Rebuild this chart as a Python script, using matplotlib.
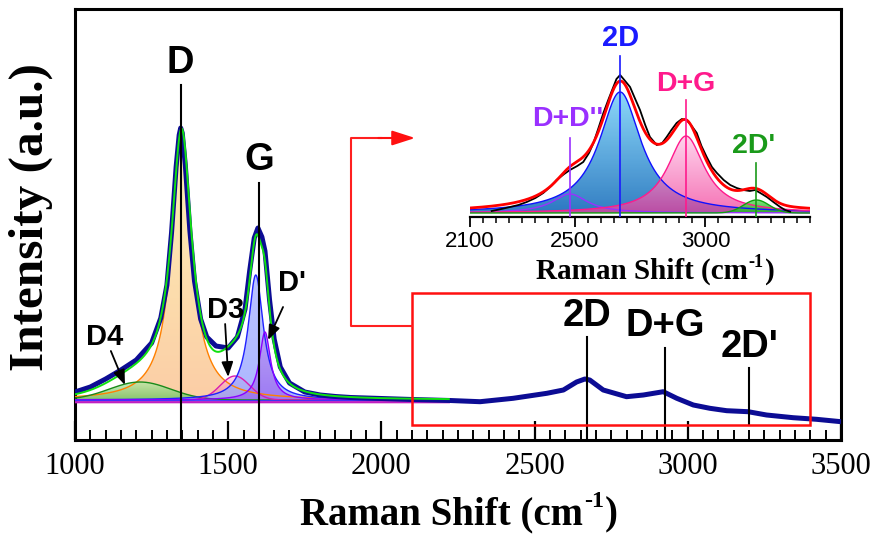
import numpy as np
import matplotlib
matplotlib.use("Agg")
import matplotlib.pyplot as plt
from matplotlib.colors import LinearSegmentedColormap
from matplotlib.path import Path
from matplotlib.patches import PathPatch, Rectangle

# ---------------- data ----------------
# measured spectrum, main panel (intensity in arbitrary units above baseline)
main_shift = [1000, 1050, 1100, 1150, 1200, 1250, 1280, 1300, 1315, 1330, 1340, 1345,
              1350, 1360, 1375, 1390, 1410, 1430, 1460, 1500, 1530, 1555, 1570, 1585,
              1597, 1610, 1620, 1635, 1650, 1670, 1700, 1750, 1800, 1850, 1900, 2000,
              2100, 2224, 2322, 2430, 2540, 2594, 2637, 2664, 2680, 2724, 2800, 2855,
              2920, 2964, 3018, 3072, 3127, 3197, 3257, 3344, 3420, 3500]
main_intensity = [9, 14, 22, 31, 41, 58, 83, 116, 168, 234, 266, 273,
                  268, 236, 170, 120, 82, 64, 55, 53, 64, 92, 130, 163,
                  173, 164, 150, 101, 62, 34, 18, 9, 6, 4.5, 3.5, 2.5,
                  1.5, 0.5, -0.7, 2.7, 7.7, 11, 19, 22, 21, 11, 4.3, 6,
                  9.3, 2.7, -4, -7.3, -9.7, -10.7, -14, -16.7, -18.3, -20.7]

# fitted components, main panel
main_peak_names = ['D', 'D4', 'D3', 'G', "D'"]
main_peak_centers = [1348, 1212, 1522, 1590, 1620]
main_peak_heights = [262, 18, 24, 125, 68]
main_peak_widths = [40, 100, 48, 30, 22]        # HWHM (Lorentz) / sigma (Gauss)
main_peak_shapes = ['L', 'G', 'G', 'L', 'L']
main_fit_range = [1000, 2220]
main_baseline = 1

# inset: measured spectrum
inset_shift = [2183, 2220, 2253, 2285, 2317, 2350, 2380, 2410, 2431, 2460, 2482, 2510,
               2533, 2555, 2572, 2590, 2610, 2630, 2648, 2660, 2674, 2690, 2712, 2730,
               2750, 2770, 2788, 2814, 2835, 2852, 2870, 2890, 2910, 2928, 2945, 2967,
               2985, 3005, 3025, 3044, 3070, 3095, 3120, 3145, 3170, 3190, 3210, 3235,
               3260, 3286, 3305, 3324]
inset_intensity = [2, 4, 6, 8, 11, 15, 20, 27, 33, 39, 43, 47,
                   51, 60, 70, 84, 100, 114, 126, 134, 138, 133, 126, 115,
                   103, 88, 76, 68, 70, 76, 83, 90, 94, 93, 88, 80,
                   67, 56, 46, 40, 33, 28, 25, 23, 22, 23, 20, 16,
                   11, 6, 3, 1.3]

# inset: fitted components
inset_peak_names = ["D+D''", '2D', 'D+G', "2D'"]
inset_peak_centers = [2482, 2674, 2926, 3195]
inset_peak_heights = [19, 121, 77, 13]
inset_peak_widths = [82, 97, 86, 49]
inset_peak_shapes = ['L', 'L', 'L', 'G']
inset_fit_range = [2100, 3400]

# ---------------- styles ----------------
main_styles = {
    'D':   dict(top='#fff1ae', bot='#fbc89c', edge='#ff8000', alpha=0.9),
    'D4':  dict(top='#b4eaa8', bot='#62c25a', edge='#1a8a1a', alpha=0.75),
    'D3':  dict(top='#ffc4e6', bot='#f07a8a', edge='#d81cb0', alpha=0.65),
    'G':   dict(top='#aab4ff', bot='#98a6ff', edge='#2020ff', alpha=0.8),
    "D'":  dict(top='#b898f4', bot='#9a6cf0', edge='#8a00ff', alpha=0.8),
}
inset_styles = {
    "D+D''": dict(top='#a890ff', bot='#5060f0', edge='#9a30ff', alpha=0.85, txt='#9a30ff'),
    '2D':    dict(top='#86d6fa', bot='#2878c0', edge='#1010ff', alpha=0.95, txt='#1a1aff'),
    'D+G':   dict(top='#ffc4e6', bot='#f23a98', edge='#ff1a8c', alpha=0.72, txt='#ff1a8c'),
    "2D'":   dict(top='#70e070', bot='#20b020', edge='#10a010', alpha=0.9, txt='#1a9a1a'),
}


def profile(x, c, h, w, shape):
    if shape == 'L':
        return h / (1.0 + ((x - c) / w) ** 2)
    return h * np.exp(-0.5 * ((x - c) / w) ** 2)


def grad_fill(ax, x, y0, y, ctop, cbot, alpha, z):
    verts = np.column_stack([np.r_[x, x[::-1]], np.r_[y, np.full_like(x, y0)]])
    patch = PathPatch(Path(verts), facecolor='none', edgecolor='none',
                      transform=ax.transData)
    ax.add_patch(patch)
    cmap = LinearSegmentedColormap.from_list('g', [cbot, ctop])
    im = ax.imshow(np.linspace(0, 1, 256)[:, None], cmap=cmap, origin='lower',
                   extent=[x.min(), x.max(), y0, y.max()], aspect='auto',
                   alpha=alpha, zorder=z, interpolation='bilinear')
    im.set_clip_path(patch)


fig = plt.figure(figsize=(8.76, 5.34), dpi=100)
W, H = 876.0, 534.0
renderer = fig.canvas.get_renderer()


def sup_label(cx_px, base_px, fs, raise_px):
    """'Raman Shift (cm' + superscript '-1' + ')', centred at cx_px."""
    kw = dict(family='Liberation Serif', weight='bold', va='baseline', ha='left')
    t1 = fig.text(0, 1 - base_px / H, 'Raman Shift (cm', fontsize=fs, **kw)
    t2 = fig.text(0, 1 - (base_px - raise_px) / H, '-1', fontsize=fs * 0.62, **kw)
    t3 = fig.text(0, 1 - base_px / H, ')', fontsize=fs, **kw)
    ws = [t.get_window_extent(renderer).width for t in (t1, t2, t3)]
    x0 = cx_px - sum(ws) / 2.0
    t1.set_x(x0 / W)
    t2.set_x((x0 + ws[0] + 1) / W)
    t3.set_x((x0 + ws[0] + ws[1] + 2) / W)


ax = fig.add_axes([75 / W, 94 / H, 766 / W, 431 / H])

# ---- main fit components ----
xf = np.linspace(main_fit_range[0], main_fit_range[1], 1500)
total = np.full_like(xf, main_baseline, dtype=float)
for i, name in enumerate(main_peak_names):
    yc = profile(xf, main_peak_centers[i], main_peak_heights[i],
                 main_peak_widths[i], main_peak_shapes[i])
    total += yc
    st = main_styles[name]
    grad_fill(ax, xf, main_baseline, main_baseline + yc, st['top'], st['bot'],
              st['alpha'], 2 + i * 0.1)
    ax.plot(xf, main_baseline + yc, color=st['edge'], lw=1.0, zorder=2.6 + i * 0.05)
ax.plot(xf, np.full_like(xf, 0.2), color='#3030ff', lw=1.0, zorder=2.9)
ax.plot(xf, np.full_like(xf, -1.2), color='#c020c0', lw=1.6, zorder=2.95)

ax.plot(main_shift, main_intensity, color='#0c0c94', lw=3.6, zorder=4,
        solid_capstyle='butt')
ax.plot(xf, total, color='#10e010', lw=1.4, zorder=5)

# ---- peak markers in main panel ----
ybot = -39
lab_kw = dict(family='Liberation Sans', weight='bold', ha='center', va='center',
              color='black')
for xv, ytop, ylab, txt in [(1345, 316, 338, 'D'), (1600, 218, 241, 'G'),
                             (2670, 64, 85, '2D'), (2926, 53, 75, 'D+G'),
                             (3200, 33, 54, "2D'")]:
    ax.plot([xv, xv], [ybot if txt != "2D'" else -24, ytop], color='black',
            lw=1.5, zorder=6, clip_on=False)
    ax.text(xv, ylab, txt, fontsize=27.5, zorder=7, **lab_kw)

arrow_kw = dict(arrowstyle='-|>,head_length=0.9,head_width=0.35', color='black',
                lw=1.3, shrinkA=0, shrinkB=0)
for txt, lab, start, tip in [('D4', (1098, 64), (1117, 50), (1163, 16)),
                              ('D3', (1490, 91), (1490, 77), (1500, 24)),
                              ("D'", (1708, 118), (1679, 94), (1630, 61))]:
    ax.text(lab[0], lab[1], txt, fontsize=21, zorder=7, **lab_kw)
    ax.annotate('', xy=tip, xytext=start, arrowprops=arrow_kw, zorder=7)

# ---- red zoom box and connector ----
ax.add_patch(Rectangle((2100, -24), 1300, 132, fill=False, edgecolor='#ff1010',
                       lw=1.8, zorder=6))
ax.plot([2100, 1900, 1900, 2000], [75.3, 75.3, 263, 263], color='#ff2020', lw=1.5,
        zorder=6, clip_on=False)
ax.annotate('', xy=(2110, 263), xytext=(1990, 263),
            arrowprops=dict(arrowstyle='-|>,head_length=1.4,head_width=0.45',
                            color='#ff1010', lw=1.5, shrinkA=0, shrinkB=0), zorder=6)

ax.set_xlim(1000, 3500)
ax.set_ylim(-39, 392)
ax.set_xticks([1000, 1500, 2000, 2500, 3000, 3500])
ax.set_xticks(np.arange(1000, 3501, 50), minor=True)
ax.set_yticks([])
ax.tick_params(axis='x', which='major', direction='in', length=14, width=1.6,
               labelsize=22, pad=9, top=False)
ax.tick_params(axis='x', which='minor', direction='in', length=7, width=1.4,
               top=False)
for lbl in ax.get_xticklabels():
    lbl.set_family('Liberation Serif')
for sp in ax.spines.values():
    sp.set_linewidth(2.2)

sup_label(458, 524, 28, 17)
fig.text(31 / W, 1 - 217 / H, 'Intensity (a.u.)', family='Liberation Serif',
         weight='bold', fontsize=35.5, ha='center', va='center', rotation=90)

# ---------------- inset ----------------
axi = fig.add_axes([470 / W, (534 - 217) / H, 340 / W, 197 / H])
axi.patch.set_visible(False)
xi = np.linspace(inset_fit_range[0], inset_fit_range[1], 1300)
itotal = np.zeros_like(xi)
for i, name in enumerate(inset_peak_names):
    yc = profile(xi, inset_peak_centers[i], inset_peak_heights[i],
                 inset_peak_widths[i], inset_peak_shapes[i])
    itotal += yc
    st = inset_styles[name]
    grad_fill(axi, xi, 0, yc, st['top'], st['bot'], st['alpha'], 2 + i * 0.1)
    axi.plot(xi, yc, color=st['edge'], lw=1.0, zorder=2.6 + i * 0.05)

axi.plot(inset_shift, inset_intensity, color='black', lw=1.3, zorder=4)
axi.plot(xi, itotal, color='#ff0000', lw=2.0, zorder=5)

for name, xv, ytop, xl, yl, fs in [("D+D''", 2482, 75, 2473, 94, 20.5),
                                    ('2D', 2674, 157, 2674, 175, 21),
                                    ('D+G', 2926, 113, 2926, 129, 20.5),
                                    ("2D'", 3195, 50, 3186, 67, 20.5)]:
    c = inset_styles[name]['txt']
    axi.plot([xv, xv], [-4, ytop], color=c, lw=1.2, zorder=6)
    axi.text(xl, yl, name, color=c, fontsize=fs, family='Liberation Sans',
             weight='bold', ha='center', va='center', zorder=7)

axi.set_xlim(2100, 3400)
axi.set_ylim(-4, 193)
for s in ['left', 'right', 'top']:
    axi.spines[s].set_visible(False)
axi.spines['bottom'].set_linewidth(1.6)
axi.set_yticks([])
axi.set_xticks([2100, 2500, 3000])
axi.set_xticks(np.arange(2100, 3401, 50), minor=True)
axi.tick_params(axis='x', which='major', direction='out', length=7, width=1.3,
                labelsize=16, pad=3)
axi.tick_params(axis='x', which='minor', direction='out', length=4.5, width=1.1)
for lbl in axi.get_xticklabels():
    lbl.set_family('Liberation Sans')
sup_label(654, 279, 21, 12)

fig.savefig('out.png', dpi=100)
